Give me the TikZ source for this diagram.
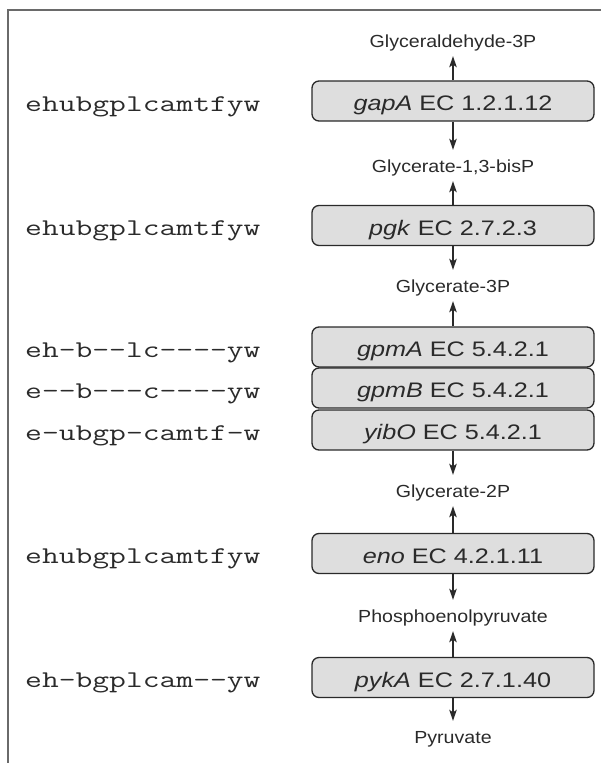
\documentclass[tikz,border=0pt]{standalone}
\usepackage{fontspec}
\setmainfont{Liberation Sans}
\usetikzlibrary{arrows.meta}
\definecolor{boxfill}{HTML}{DEDEDE}
\definecolor{inkc}{HTML}{2A2A2A}
\definecolor{framec}{HTML}{6A6A6A}
\newcommand\hstretch[2]{\scalebox{#1}[1]{#2}}
\begin{document}
\begin{tikzpicture}[x=1pt,y=-1pt,
  enz/.style={draw=inkc, line width=1.3pt, fill=boxfill, rounded corners=7pt,
    minimum width=282pt, minimum height=40pt, inner sep=0pt,
    text height=24pt, text depth=5pt, text=inkc,
    font=\fontsize{21}{24}\selectfont},
  met/.style={inner xsep=0pt, inner ysep=9pt, text height=13pt, text depth=0pt,
    anchor=base, text=inkc, font=\fontsize{17.5}{20}\selectfont},
  org/.style={anchor=base west, inner sep=0pt, text=inkc,
    font=\fontsize{24}{27}\ttfamily},
  arr/.style={draw=inkc, line width=1.4pt,
    -{Stealth[length=11pt,width=7.5pt,inset=2.5pt]}}
]
\useasboundingbox (0,0) rectangle (601,763);
\draw[line width=1.4pt, draw=framec] (8,763) -- (8,10) -- (601,10);

% enzyme boxes
\node[enz] (gapA) at (453,101)   {\hstretch{1.2}{\textit{gapA} EC 1.2.1.12}};
\node[enz] (pgk)  at (453,225.5) {\hstretch{1.2}{\textit{pgk} EC 2.7.2.3}};
\node[enz] (gpmA) at (453,347)   {\hstretch{1.2}{\textit{gpmA} EC 5.4.2.1}};
\node[enz] (gpmB) at (453,388)   {\hstretch{1.2}{\textit{gpmB} EC 5.4.2.1}};
\node[enz] (yibO) at (453,430)   {\hstretch{1.2}{\textit{yibO} EC 5.4.2.1}};
\node[enz] (eno)  at (453,553.5) {\hstretch{1.2}{\textit{eno} EC 4.2.1.11}};
\node[enz] (pykA) at (453,677.5) {\hstretch{1.2}{\textit{pykA} EC 2.7.1.40}};

% metabolites
\node[met] (m1) at (453,47)  {\hstretch{1.12}{Glyceraldehyde-3P}};
\node[met] (m2) at (453,172) {\hstretch{1.12}{Glycerate-1,3-bisP}};
\node[met] (m3) at (453,292) {\hstretch{1.12}{Glycerate-3P}};
\node[met] (m4) at (453,497) {\hstretch{1.12}{Glycerate-2P}};
\node[met] (m5) at (453,622) {\hstretch{1.12}{Phosphoenolpyruvate}};
\node[met] (m6) at (453,743) {\hstretch{1.12}{Pyruvate}};

% organism strings
\node[org] (o1) at (25,111)   {\hstretch{1.36}{ehubgplcamtfyw}};
\node[org] (o2) at (25,235.5) {\hstretch{1.36}{ehubgplcamtfyw}};
\node[org] (o3) at (25,357)   {\hstretch{1.36}{eh-b--lc----yw}};
\node[org] (o4) at (25,398)   {\hstretch{1.36}{e--b---c----yw}};
\node[org] (o5) at (25,440)   {\hstretch{1.36}{e-ubgp-camtf-w}};
\node[org] (o6) at (25,563.5) {\hstretch{1.36}{ehubgplcamtfyw}};
\node[org] (o7) at (25,687.5) {\hstretch{1.36}{eh-bgplcam--yw}};

% arrows
\draw[arr] (gapA.north) -- (m1.south);
\draw[arr] (gapA.south) -- (m2.north);
\draw[arr] (pgk.north)  -- (m2.south);
\draw[arr] (pgk.south)  -- (m3.north);
\draw[arr] (gpmA.north) -- (m3.south);
\draw[arr] (yibO.south) -- (m4.north);
\draw[arr] (eno.north)  -- (m4.south);
\draw[arr] (eno.south)  -- (m5.north);
\draw[arr] (pykA.north) -- (m5.south);
\draw[arr] (pykA.south) -- (m6.north);
\end{tikzpicture}
\end{document}
